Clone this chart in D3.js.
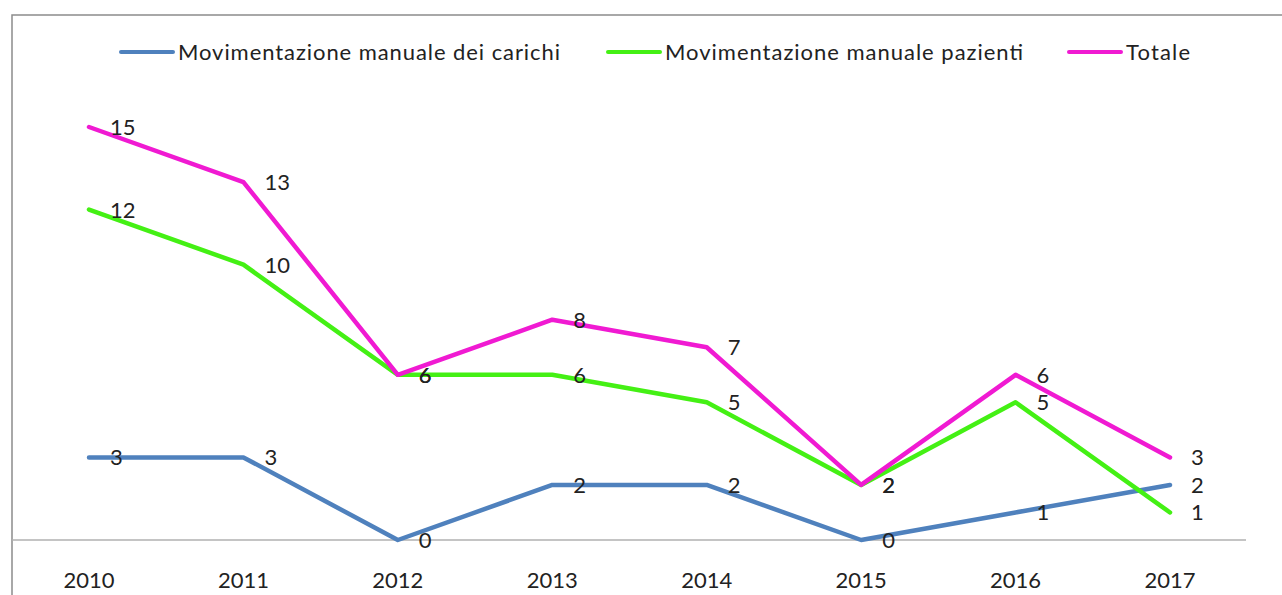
<!DOCTYPE html>
<html>
<head>
<meta charset="utf-8">
<script src="https://cdn.jsdelivr.net/npm/d3@7/dist/d3.min.js"></script>
<style>
  body { margin: 0; background: #fff; }
  svg { display: block; font-family: Lato, "Open Sans", sans-serif; }
</style>
</head>
<body>
<svg id="svg" width="1282" height="595"></svg>
<script>
const years = ['2010', '2011', '2012', '2013', '2014', '2015', '2016', '2017'];
const carichi = [3, 3, 0, 2, 2, 0, 1, 2];
const pazienti = [12, 10, 6, 6, 5, 2, 5, 1];
const totale = [15, 13, 6, 8, 7, 2, 6, 3];

const seriesNames = ['Movimentazione manuale dei carichi', 'Movimentazione manuale pazienti', 'Totale'];
const seriesColors = ['#4f81bd', '#44f014', '#f01ad2'];

const series = [carichi, pazienti, totale].map((values, i) => ({
  name: seriesNames[i], color: seriesColors[i], values: values
}));

const svg = d3.select('#svg');

// outer frame (only left and top visible in the picture)
svg.append('rect')
  .attr('x', 12).attr('y', 15)
  .attr('width', 1300).attr('height', 620)
  .attr('fill', 'none')
  .attr('stroke', '#8c8c8c')
  .attr('stroke-width', 1.5);

const x = d3.scalePoint().domain(years).range([89, 1170]);
const y = d3.scaleLinear().domain([0, 15]).range([540, 127]);

// category axis
svg.append('line')
  .attr('x1', 12).attr('x2', 1246)
  .attr('y1', y(0)).attr('y2', y(0))
  .attr('stroke', '#b0b0b0').attr('stroke-width', 1.5);

svg.selectAll('.tick-label')
  .data(years)
  .enter()
  .append('text')
  .attr('class', 'tick-label')
  .attr('x', d => x(d))
  .attr('y', 588)
  .attr('text-anchor', 'middle')
  .attr('font-size', 22)
  .attr('fill', '#222')
  .text(d => d);

const line = d3.line()
  .x((d, i) => x(years[i]))
  .y(d => y(d));

svg.selectAll('.series')
  .data(series)
  .enter()
  .append('path')
  .attr('class', 'series')
  .attr('d', d => line(d.values))
  .attr('fill', 'none')
  .attr('stroke', d => d.color)
  .attr('stroke-width', 4.5)
  .attr('stroke-linejoin', 'round')
  .attr('stroke-linecap', 'round');

// data labels
series.forEach(s => {
  svg.selectAll(null)
    .data(s.values)
    .enter()
    .append('text')
    .attr('x', (d, i) => x(years[i]) + 21)
    .attr('y', d => y(d) + 8)
    .attr('font-size', 22)
    .attr('fill', '#222')
    .text(d => d);
});

// legend
const legendX = [121, 608, 1069];
const legendWidths = [382, 358, 64];
const legend = svg.selectAll('.legend')
  .data(series)
  .enter()
  .append('g')
  .attr('class', 'legend')
  .attr('transform', (d, i) => 'translate(' + legendX[i] + ',52)');

legend.append('line')
  .attr('x1', 0).attr('x2', 52)
  .attr('stroke', d => d.color)
  .attr('stroke-width', 4)
  .attr('stroke-linecap', 'round');

legend.append('text')
  .attr('x', 57)
  .attr('y', 8)
  .attr('font-size', 22)
  .attr('fill', '#222')
  .attr('textLength', (d, i) => legendWidths[i])
  .attr('lengthAdjust', 'spacing')
  .text(d => d.name);
</script>
</body>
</html>
